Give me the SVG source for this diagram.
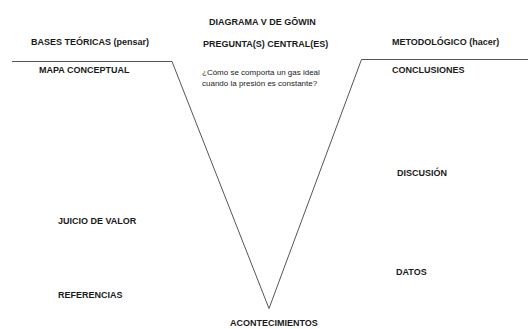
<svg xmlns="http://www.w3.org/2000/svg" width="528" height="329" viewBox="0 0 528 329">
<style>
.t{font-family:"Liberation Sans",Arial,sans-serif;font-weight:bold;font-size:9px;fill:#1a1a1a}
.q{font-family:"Liberation Sans",Arial,sans-serif;font-size:8px;fill:#222}
.ln{fill:none;stroke:#555;stroke-width:1}
</style>
<rect width="528" height="329" fill="#fff"/>
<g id="connectors">
<polyline class="ln" points="12,61.5 172,61.5 269,308.5 361.5,59.5 528,59.5"/>
</g>
<g id="title"><text class="t" x="209" y="25">DIAGRAMA V DE GÕWIN</text></g>
<g id="bases"><text class="t" x="31" y="45">BASES TEÓRICAS (pensar)</text></g>
<g id="pregunta"><text class="t" x="203" y="47">PREGUNTA(S) CENTRAL(ES)</text></g>
<g id="metodologico"><text class="t" x="392" y="45">METODOLÓGICO (hacer)</text></g>
<g id="mapa"><text class="t" x="39" y="73">MAPA CONCEPTUAL</text></g>
<g id="question"><text class="q" x="202" y="75">¿Cómo se comporta un gas ideal</text><text class="q" x="202" y="86">cuando la presión es constante?</text></g>
<g id="conclusiones"><text class="t" x="392" y="73">CONCLUSIONES</text></g>
<g id="discusion"><text class="t" x="397" y="176">DISCUSIÓN</text></g>
<g id="juicio"><text class="t" x="58" y="224">JUICIO DE VALOR</text></g>
<g id="datos"><text class="t" x="396" y="275">DATOS</text></g>
<g id="referencias"><text class="t" x="58" y="298">REFERENCIAS</text></g>
<g id="acontecimientos"><text class="t" x="230" y="326">ACONTECIMIENTOS</text></g>
</svg>
